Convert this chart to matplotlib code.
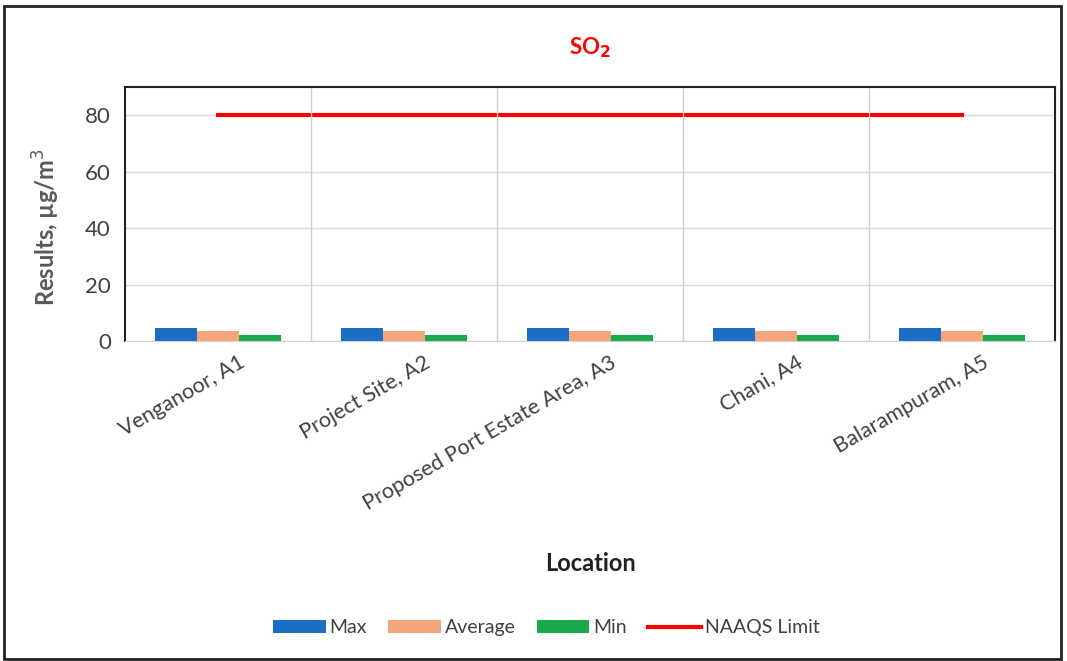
import numpy as np
import matplotlib.pyplot as plt
import matplotlib.transforms as mtransforms
from matplotlib.patches import Rectangle

plt.rcParams['font.family'] = ['Lato', 'DejaVu Sans']

locations = ['Venganoor, A1', 'Project Site, A2', 'Proposed Port Estate Area, A3',
             'Chani, A4', 'Balarampuram, A5']
max_vals = [4.6, 4.6, 4.6, 4.6, 4.6]
avg_vals = [3.4, 3.4, 3.4, 3.4, 3.4]
min_vals = [2.3, 2.3, 2.3, 2.3, 2.3]
naaqs = [80, 80, 80, 80, 80]

fig = plt.figure(figsize=(10.67, 6.61), dpi=100)
ax = fig.add_axes([0.117, 0.484, 0.872, 0.384])

x = np.arange(len(locations))
w = 0.225
ax.bar(x - w, max_vals, w, color='#1a6fc4', label='Max')
ax.bar(x, avg_vals, w, color='#f4a57c', label='Average')
ax.bar(x + w, min_vals, w, color='#1aa84a', label='Min')
ax.plot(x, naaqs, color='#ff0000', lw=3, label='NAAQS Limit')

ax.set_xlim(-0.5, len(locations) - 0.5)
ax.set_ylim(0, 90)
ax.set_yticks([0, 20, 40, 60, 80])
ax.grid(axis='y', color='#d9d9d9', lw=1)
for xv in x[:-1] + 0.5:
    ax.axvline(xv, color='#d0d0d0', lw=1)
ax.set_axisbelow(True)

ax.set_xticks(x)
ax.set_xticklabels(locations, rotation=30, ha='right', rotation_mode='anchor',
                   fontsize=15.5, color='#404040')
ax.tick_params(axis='y', length=0, labelsize=16, colors='#404040', pad=10)
ax.tick_params(axis='x', length=0, pad=8)
# Excel puts the end of rotated labels a bit right of the category centre
shift = mtransforms.ScaledTranslation(0.2, 0, fig.dpi_scale_trans)
for lbl in ax.get_xticklabels():
    lbl.set_transform(lbl.get_transform() + shift)

for s in ['left', 'top', 'right']:
    ax.spines[s].set_color('#222222')
    ax.spines[s].set_linewidth(1.5)
ax.spines['bottom'].set_color('#d0d0d0')

ax.set_ylabel('Results, µg/m$^3$', fontsize=17, color='#595959', fontweight='bold')
ax.yaxis.set_label_coords(-0.068, 0.45)
ax.set_title('SO$_\\mathbf{2}$', color='#ff0000', fontsize=16, fontweight='bold', pad=24)

fig.text(0.553, 0.148, 'Location', ha='center', va='center', fontsize=17,
         fontweight='bold', color='#222222')

handles, labels = ax.get_legend_handles_labels()
order = [1, 2, 3, 0]
fig.legend([handles[i] for i in order], [labels[i] for i in order],
           loc='center', bbox_to_anchor=(0.512, 0.05), ncol=4, frameon=False,
           fontsize=14, handlelength=2.7, handletextpad=0.2, columnspacing=1.1,
           labelcolor='#404040')

fig.patches.append(Rectangle((0.004, 0.003), 0.99, 0.988, transform=fig.transFigure,
                             fill=False, edgecolor='#222222', lw=2))

fig.savefig('out.png', dpi=100)
